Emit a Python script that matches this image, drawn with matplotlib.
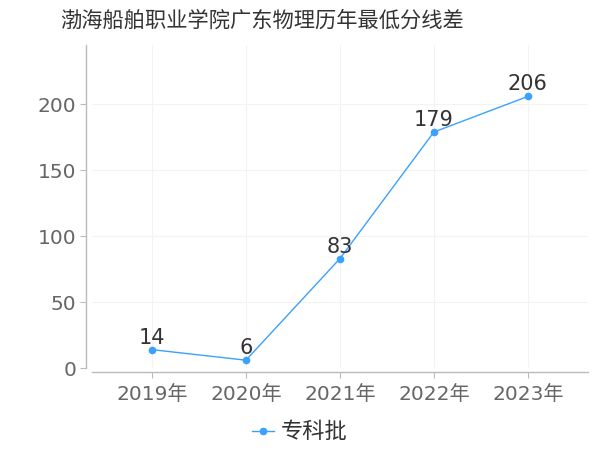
import matplotlib
matplotlib.use("Agg")
import matplotlib.pyplot as plt
from matplotlib.lines import Line2D

plt.rcParams["font.family"] = ["DejaVu Sans", "Noto Sans CJK SC"]

# data
years = ["2019年", "2020年", "2021年", "2022年", "2023年"]
diffs = [14, 6, 83, 179, 206]
series_name = "专科批"
title = "渤海船舶职业学院广东物理历年最低分线差"
y_ticks = [0, 50, 100, 150, 200]

line_color = "#3ba1ff"

fig = plt.figure(figsize=(6, 4.5), dpi=100)
ax = fig.add_axes([0.153, 0.182, 0.827, 0.718])

x = list(range(len(years)))
ax.plot(x, diffs, color=line_color, linewidth=1.0, marker="o",
        markersize=4.5, zorder=3)

for xi, v in zip(x, diffs):
    ax.annotate(str(v), (xi, v), xytext=(0, 1.5), textcoords="offset points",
                ha="center", va="bottom", fontsize=15, color="#333333")

ax.set_xlim(-0.64, 4.64)
ax.set_ylim(0, 245)
ax.set_xticks(x)
ax.set_xticklabels(years)
ax.set_yticks(y_ticks)

ax.grid(True, color="#f3f3f3", linewidth=0.8)
ax.set_axisbelow(True)

for side in ["top", "right"]:
    ax.spines[side].set_visible(False)
ax.spines["left"].set_position(("outward", 4))
ax.spines["bottom"].set_position(("outward", 3))
for side in ["left", "bottom"]:
    ax.spines[side].set_color("#bbbbbb")
    ax.spines[side].set_linewidth(1.0)

ax.tick_params(axis="both", colors="#bbbbbb", labelcolor="#666666",
               labelsize=14.5, length=4, width=0.8)
ax.tick_params(axis="x", pad=5)
ax.tick_params(axis="y", pad=3)

fig.text(0.437, 0.955, title, ha="center", va="center", fontsize=15.3,
         color="#333333", family=["Noto Sans CJK SC", "DejaVu Sans"])

handle = Line2D([], [], color=line_color, linewidth=1.0, marker="o",
                markersize=4.5)
fig.legend([handle], [series_name], loc="center", bbox_to_anchor=(0.5, 0.04),
           frameon=False, handlelength=1.0, handletextpad=0.3,
           prop={"family": ["Noto Sans CJK SC", "DejaVu Sans"], "size": 16},
           labelcolor="#333333")

fig.savefig("out.png", dpi=100)
